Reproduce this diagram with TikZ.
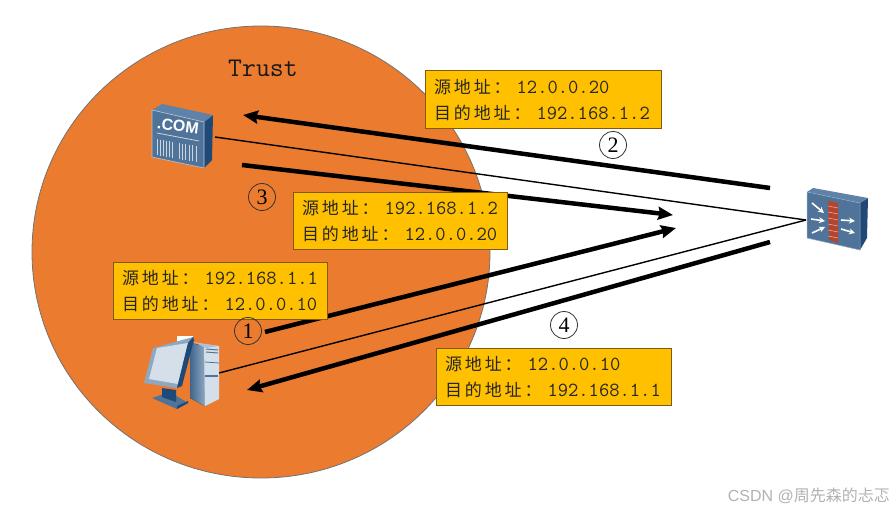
\documentclass[tikz,border=0pt]{standalone}
\usepackage{fontspec}
\setmainfont{Liberation Serif}
\setsansfont{Liberation Sans}
\newfontfamily\cjk{Noto Sans CJK SC}
\newfontfamily\cjksp{Noto Sans CJK SC}[LetterSpace=17]
\newfontfamily\lat{Latin Modern Mono}
\definecolor{orangeC}{HTML}{EB7B2E}
\definecolor{goldC}{HTML}{FFC000}
\definecolor{boxline}{HTML}{7F5A10}
\definecolor{front}{HTML}{4F7399}
\definecolor{topf}{HTML}{5F82A8}
\definecolor{side}{HTML}{1F4A78}
\definecolor{bright}{HTML}{D5DFEA}
\definecolor{brick}{HTML}{B5442F}
\usetikzlibrary{arrows.meta,shapes.geometric}
\tikzset{x=1pt,y=-1pt,
  infobox/.style={draw=boxline,line width=1pt,fill=goldC,minimum height=57pt,inner xsep=9pt,inner ysep=0pt,align=left,text=black!85,font=\cjksp\fontsize{17}{26}\selectfont},
  flow/.style={line width=4.5pt,-{Stealth[length=15pt,width=13pt,inset=2pt]}},
  thinl/.style={line width=1.4pt},
  numc/.style={draw=black!80,line width=.8pt,circle,minimum size=27pt,inner sep=0pt,font=\fontsize{22}{22}\selectfont},
  stripe/.style={white!70!front,line width=.9pt},
  fwarrow/.style={white,line width=1.6pt,-{Stealth[length=6pt,width=6pt]}},
}
\newcommand{\info}[2]{源地址：\hspace{6pt}{\lat\fontsize{20}{26}\selectfont #1}\\目的地址：\hspace{6pt}{\lat\fontsize{20}{26}\selectfont #2}}
\begin{document}
\begin{tikzpicture}
\useasboundingbox (0,0) rectangle (894,511);
\fill[white] (0,0) rectangle (894,511);
\node[draw=black!55,line width=.8pt,fill=orangeC,ellipse,minimum width=458pt,minimum height=452pt,inner sep=0pt] (zone) at (261,252) {};
\node[font=\lat\fontsize{27}{27}\selectfont,text=black!90] (trust) at (263,68) {Trust};

% anchors
\coordinate (srvOut) at (215,137);
\coordinate (pcOut) at (219,373);
\coordinate (fwIn) at (806,220);
\coordinate (a2s) at (770,188); \coordinate (a2e) at (243,115);
\coordinate (a3s) at (242,165); \coordinate (a3e) at (673,215);
\coordinate (a1s) at (265,332); \coordinate (a1e) at (676,228);
\coordinate (a4s) at (770,242); \coordinate (a4e) at (247,390);

\draw[thinl] (srvOut) -- (fwIn);
\draw[thinl] (pcOut) -- (fwIn);
\draw[flow] (a2s) -- (a2e);
\draw[flow] (a3s) -- (a3e);
\draw[flow] (a1s) -- (a1e);
\draw[flow] (a4s) -- (a4e);

\node[infobox,text width=218pt] (b2) at (543,99.5) {\info{12.0.0.20}{192.168.1.2}};
\node[infobox,text width=196pt] (b3) at (400,220.5) {\info{192.168.1.2}{12.0.0.20}};
\node[infobox,text width=196pt] (b1) at (220,291) {\info{192.168.1.1}{12.0.0.10}};
\node[infobox,text width=217pt] (b4) at (553.5,376.5) {\info{12.0.0.10}{192.168.1.1}};

\node[numc] (n1) at (248,331) {1};
\node[numc] (n2) at (613,145) {2};
\node[numc] (n3) at (262,197) {3};
\node[numc] (n4) at (564,325) {4};

% server icon
\fill[side] (204,122) -- (213,115) -- (212,160) -- (204,168) -- cycle;
\fill[topf] (152,110) -- (162,104) -- (213,115) -- (204,122) -- cycle;
\fill[front] (152,110) -- (204,122) -- (204,168) -- (152,157) -- cycle;
\draw[white!60!front,line width=.6pt] (152,110) -- (204,122) -- (204,168) -- (152,157) -- cycle;
\node[font=\bfseries\sffamily\fontsize{16}{16}\selectfont,text=white,rotate=-7,inner sep=0pt] (srvLabel) at (178,126) {.COM};
\draw[white!70!front,line width=.8pt] (157,133) -- (199,141);
\foreach \i in {0,...,5}{
  \draw[stripe] ({157+\i*3},{139+\i*.5}) -- ++(0,16);
  \draw[stripe] ({179+\i*3.4},{143+\i*.6}) -- ++(0,16);
}

% firewall icon
\fill[side] (860,203) -- (868,198) -- (867,238) -- (860,250) -- cycle;
\fill[topf] (807,192) -- (813,188) -- (868,198) -- (860,203) -- cycle;
\fill[front] (807,192) -- (860,203) -- (860,250) -- (807,238) -- cycle;
\draw[white!40!front,line width=.5pt] (807,192) -- (860,203) -- (860,250) -- (807,238) -- cycle;
\fill[brick] (828,201) -- (838,203) -- (838,243) -- (829,240) -- cycle;
\foreach \i in {0,...,5}{\draw[white!60!brick,line width=.5pt] (828,{206+\i*6}) -- (838,{208+\i*6});}
\foreach \p/\q in {{812,203}/{824,213},{811,219}/{825,221},{812,233}/{825,227},{841,220}/{855,221},{841,229}/{855,233}}{
  \draw[fwarrow] (\p) -- (\q);
}

% pc icon
\fill[white] (177,336) rectangle (193,342);
\fill[left color=side!85,right color=topf!70!white] (190,343) -- (205,346) -- (205,406) -- (190,398) -- cycle;
\fill[bright] (204,344) -- (219,346) -- (219,399) -- (205,406) -- cycle;
\fill[topf!50!white] (194,342) -- (206,344) -- (219,346) -- (206,348) -- cycle;
\draw[front,line width=1pt] (206,349) -- (218,350);
\draw[front,line width=1pt] (206,352) -- (218,353);
\draw[front,line width=.8pt] (205,362) -- (219,363);
\draw[front,line width=1.6pt] (205,376) -- (218,376);
\fill[front] (152,398) -- (170,392) -- (188,403) -- (177,409) -- cycle;
\fill[side] (177,409) -- (188,403) -- (188,401) -- (177,406) -- cycle;
\fill[side] (162,388) -- (176,390) -- (176,402) -- (162,397) -- cycle;
\fill[topf!70!white] (153,348) -- (193,337) -- (194,340) -- (177,388) -- (144,383) -- cycle;
\fill[bright] (157,348) -- (188,343) -- (178,384) -- (149,379) -- cycle;
\fill[side] (193,337) -- (194,340) -- (182,386) -- (177,388) -- (188,343) -- cycle;

\node[text=black!30,font=\cjk\fontsize{16}{16}\selectfont,anchor=east,inner sep=0pt] (mark) at (890,496) {\sffamily CSDN @\cjk 周先森的忐忑};
\end{tikzpicture}
\end{document}
